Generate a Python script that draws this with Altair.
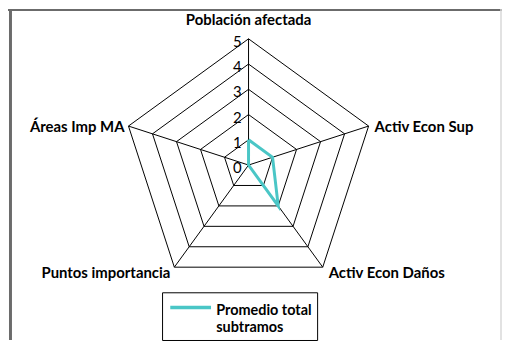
import altair as alt
import numpy as np
import pandas as pd

categories = ["Población afectada", "Activ Econ Sup", "Activ Econ Daños",
              "Puntos importancia", "Áreas Imp MA"]
values = [1, 1, 2, 0, 0]
series_name = "Promedio total subtramos"
tick_values = [0, 1, 2, 3, 4, 5]
r_max = 5

TEAL = "#4ac6c6"
FONT = "Lato"
W, H = 497, 333
PX = 25.4          # pixels per unit of radius
CX, CY = 242, 157  # centre in plot pixels

n = len(categories)
ang = [2 * np.pi * i / n for i in range(n)]

rings = pd.DataFrame([
    {"ring": v, "k": k, "x": v * np.sin(ang[k % n]), "y": v * np.cos(ang[k % n])}
    for v in tick_values[1:] for k in range(n + 1)
])
spokes = pd.DataFrame([
    {"x": 0.0, "y": 0.0, "x2": r_max * np.sin(a), "y2": r_max * np.cos(a)} for a in ang
])
series = pd.DataFrame([
    {"serie": series_name, "k": k,
     "x": values[k % n] * np.sin(ang[k % n]), "y": values[k % n] * np.cos(ang[k % n])}
    for k in range(n + 1)
])
ticks_df = pd.DataFrame({"x": [0.0] * len(tick_values), "y": tick_values,
                         "t": [str(v) for v in tick_values]})

xs = alt.Scale(domain=[-CX / PX, (W - CX) / PX], nice=False, zero=False)
ys = alt.Scale(domain=[-(H - CY) / PX, CY / PX], nice=False, zero=False)

ring_layer = alt.Chart(rings).mark_line(color="black", strokeWidth=1).encode(
    x=alt.X("x:Q", scale=xs, axis=None),
    y=alt.Y("y:Q", scale=ys, axis=None),
    detail="ring:N",
    order="k:Q",
)
spoke_layer = alt.Chart(spokes).mark_rule(color="black", strokeWidth=1).encode(
    x=alt.X("x:Q", scale=xs, axis=None), y=alt.Y("y:Q", scale=ys, axis=None),
    x2="x2:Q", y2="y2:Q",
)
series_layer = alt.Chart(series).mark_line(strokeWidth=3).encode(
    x=alt.X("x:Q", scale=xs, axis=None),
    y=alt.Y("y:Q", scale=ys, axis=None),
    order="k:Q",
    color=alt.Color("serie:N", scale=alt.Scale(range=[TEAL]), legend=alt.Legend(
        title=None, orient="none", legendX=155, legendY=285,
        strokeColor="black", fillColor="white", padding=5,
        symbolType="M-0.8,0.6H7.4", symbolSize=100, symbolStrokeWidth=3.5,
        labelFont=FONT, labelFontSize=14.5, labelFontWeight="bold", labelColor="black",
        labelExpr="['Promedio total', 'subtramos']", labelBaseline="top",
        labelOffset=35, labelLimit=200,
    )),
)
tick_layer = alt.Chart(ticks_df).mark_text(
    align="right", baseline="middle", dx=-7, dy=3, fontSize=15, font=FONT, color="black"
).encode(
    x=alt.X("x:Q", scale=xs, axis=None), y=alt.Y("y:Q", scale=ys, axis=None), text="t:N"
)

label_styles = [
    dict(align="center", baseline="alphabetic", dx=0, dy=-14),
    dict(align="left", baseline="middle", dx=6, dy=1),
    dict(align="left", baseline="middle", dx=6, dy=6),
    dict(align="right", baseline="middle", dx=-4, dy=6),
    dict(align="right", baseline="middle", dx=-4, dy=1),
]
label_layers = []
for i, cat in enumerate(categories):
    df = pd.DataFrame({"x": [r_max * np.sin(ang[i])], "y": [r_max * np.cos(ang[i])], "t": [cat]})
    label_layers.append(
        alt.Chart(df).mark_text(fontSize=15, font=FONT, fontWeight="bold", color="black",
                                **label_styles[i]).encode(
            x=alt.X("x:Q", scale=xs, axis=None), y=alt.Y("y:Q", scale=ys, axis=None), text="t:N"
        )
    )

frame_left = alt.Chart(pd.DataFrame({"a": [0]})).mark_rule(color="#6b6b6b", strokeWidth=3).encode(
    x=alt.value(2.5), y=alt.value(0), y2=alt.value(H))
frame_top = alt.Chart(pd.DataFrame({"a": [0]})).mark_rule(color="#6b6b6b", strokeWidth=2).encode(
    x=alt.value(0), x2=alt.value(W), y=alt.value(1))
frame_right = alt.Chart(pd.DataFrame({"a": [0]})).mark_rule(color="#d8d8d8", strokeWidth=1.5).encode(
    x=alt.value(W - 1), y=alt.value(0), y2=alt.value(H))

chart = alt.layer(
    ring_layer, spoke_layer, series_layer, tick_layer, *label_layers,
    frame_left, frame_top, frame_right,
).properties(
    width=W, height=H, autosize=alt.AutoSizeParams(type="none"), padding=0
).configure_view(stroke=None)

chart.save("out.html", embed_options={"renderer": "svg", "actions": False})
